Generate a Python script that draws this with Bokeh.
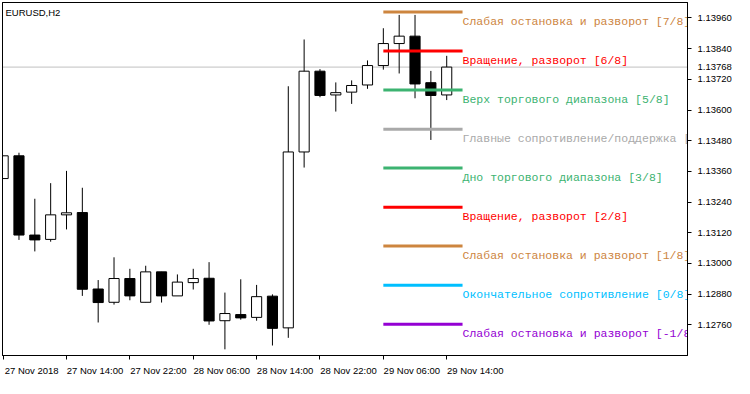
from bokeh.plotting import figure
from bokeh.models import Range1d, FixedTicker, Label, Span, ColumnDataSource, PrintfTickFormatter, LinearAxis
from bokeh.embed import file_html
from bokeh.resources import INLINE
from bokeh.core.properties import value

# ---- data (EURUSD, H2) ----
bars = list(range(29))
opens = [1.13332, 1.13421, 1.13111, 1.13094, 1.13190, 1.13199, 1.12900, 1.12848, 1.12941, 1.12848,
         1.12967, 1.12873, 1.12925, 1.12942, 1.12776, 1.12800, 1.12789, 1.12872, 1.12748, 1.13436,
         1.13752, 1.13659, 1.13670, 1.13698, 1.13774, 1.13860, 1.13889, 1.13707, 1.13659]
highs = [1.13421, 1.13433, 1.13253, 1.13314, 1.13362, 1.13296, 1.12935, 1.13024, 1.12979, 1.12991,
         1.12967, 1.12957, 1.12979, 1.13005, 1.12886, 1.12938, 1.12916, 1.12879, 1.13693, 1.13876,
         1.13760, 1.13708, 1.13716, 1.13794, 1.13920, 1.13972, 1.13972, 1.13753, 1.13812]
lows = [1.13332, 1.13092, 1.13047, 1.13085, 1.13133, 1.12873, 1.12769, 1.12839, 1.12856, 1.12848,
        1.12847, 1.12873, 1.12898, 1.12760, 1.12664, 1.12780, 1.12776, 1.12679, 1.12709, 1.13375,
        1.13650, 1.13594, 1.13624, 1.13683, 1.13758, 1.13743, 1.13646, 1.13483, 1.13639]
closes = [1.13421, 1.13111, 1.13092, 1.13190, 1.13198, 1.12899, 1.12847, 1.12941, 1.12873, 1.12967,
          1.12873, 1.12927, 1.12941, 1.12775, 1.12804, 1.12787, 1.12870, 1.12746, 1.13436, 1.13752,
          1.13657, 1.13668, 1.13696, 1.13774, 1.13860, 1.13889, 1.13702, 1.13657, 1.13768]

tick_bars = [0, 4, 8, 12, 16, 20, 24, 28]
tick_labels = ["27 Nov 2018", "27 Nov 14:00", "27 Nov 22:00", "28 Nov 06:00",
               "28 Nov 14:00", "28 Nov 22:00", "29 Nov 06:00", "29 Nov 14:00"]
price_ticks = [1.12760, 1.12880, 1.13000, 1.13120, 1.13240, 1.13360, 1.13480, 1.13600, 1.13720, 1.13840, 1.13960]

murrey_levels = [1.13983, 1.13831, 1.13678, 1.13525, 1.13373, 1.13220, 1.13068, 1.12915, 1.12762]
murrey_texts = ["Слабая остановка и разворот [7/8]",
                "Вращение, разворот [6/8]",
                "Верх торгового диапазона [5/8]",
                "Главные сопротивление/поддержка [4/8]",
                "Дно торгового диапазона [3/8]",
                "Вращение, разворот [2/8]",
                "Слабая остановка и разворот [1/8]",
                "Окончательное сопротивление [0/8]",
                "Слабая остановка и разворот [-1/8]"]
murrey_colors = ["#CD853F", "#FF0000", "#3CB371", "#A9A9A9", "#3CB371",
                 "#FF0000", "#CD853F", "#00BFFF", "#9400D3"]
murrey_start_bar = 24
murrey_end_bar = 29

current_price = 1.13768
symbol_label = "EURUSD,H2"

# ---- figure ----
x0, x1 = -0.04, 43.2
y0, y1 = 1.126399, 1.140206
p = figure(width=734, height=378, output_backend="svg", toolbar_location=None,
           x_range=Range1d(x0, x1), y_range=Range1d(y0, y1),
           y_axis_location="right", min_border_left=2, min_border_top=2,
           min_border_right=0, min_border_bottom=0)
p.background_fill_color = "white"
p.border_fill_color = "white"
p.outline_line_color = "black"
p.outline_line_width = 1
p.grid.visible = False

# time axis: tick marks at the bar times (minor ticks), labels left-aligned
# after each tick (major positions shifted by half a label width)
label_shift = 1.8
label_pos = [t + label_shift for t in tick_bars]
ax = p.xaxis[0]
ax.ticker = FixedTicker(ticks=label_pos, minor_ticks=tick_bars)
ax.major_label_overrides = {pos: lab for pos, lab in zip(label_pos, tick_labels)}
ax.major_tick_line_color = None
ax.major_tick_out = 0
ax.major_tick_in = 0
ax.minor_tick_out = 4
ax.minor_tick_in = 0
ax.minor_tick_line_color = "black"
ax.axis_line_color = "black"
ax.major_label_standoff = 5
ax.major_label_text_font = "Liberation Sans"
ax.major_label_text_font_size = "9.5px"
ax.major_label_text_color = "black"

# price axis: tick marks at the scale levels, plus the current price label
ay = p.yaxis[0]
ay.ticker = FixedTicker(ticks=sorted(price_ticks + [current_price]), minor_ticks=price_ticks)
ay.formatter = PrintfTickFormatter(format="%.5f")
ay.major_tick_line_color = None
ay.major_tick_out = 0
ay.major_tick_in = 0
ay.minor_tick_out = 4
ay.minor_tick_in = 0
ay.minor_tick_line_color = "black"
ay.axis_line_color = "black"
ay.major_label_standoff = 6
ay.major_label_text_font = "Liberation Sans"
ay.major_label_text_font_size = "9.5px"
ay.major_label_text_color = "black"

# plain window border on the left and top (axes without ticks)
for side in ("left", "above"):
    p.add_layout(LinearAxis(ticker=FixedTicker(ticks=[]), axis_line_color="black",
                            axis_line_width=1, major_tick_line_color=None,
                            minor_tick_line_color=None, major_tick_out=0, major_tick_in=0,
                            minor_tick_out=0, minor_tick_in=0, major_label_standoff=0), side)

# current price line
p.add_layout(Span(location=current_price, dimension="width", line_color="#C0C0C0",
                  line_width=1, level="underlay"))

# candles
tops = [max(o, c) for o, c in zip(opens, closes)]
bots = [min(o, c) for o, c in zip(opens, closes)]
fills = ["white" if c >= o else "black" for o, c in zip(opens, closes)]
src = ColumnDataSource(dict(x=bars, h=highs, l=lows, t=tops, b=bots, f=fills))
p.segment(x0="x", y0="h", x1="x", y1="l", source=src, line_color="black", line_width=1)
p.vbar(x="x", width=0.64, top="t", bottom="b", fill_color="f", line_color="black",
       line_width=1, source=src)

# Murrey math lines
msrc = ColumnDataSource(dict(x0=[murrey_start_bar] * len(murrey_levels),
                             x1=[murrey_end_bar] * len(murrey_levels),
                             y=murrey_levels, txt=murrey_texts, c=murrey_colors))
p.segment(x0="x0", y0="y", x1="x1", y1="y", line_color="c", line_width=3, source=msrc)
p.text(x="x1", y="y", text="txt", text_color="c", text_font=value("Liberation Mono"),
       text_font_size="11.5px", text_baseline="top", text_align="left",
       y_offset=3, source=msrc)

# symbol label
p.add_layout(Label(x=x0, y=y1, x_offset=3, y_offset=-4, text=symbol_label,
                   text_font="Liberation Sans", text_font_size="9.5px",
                   text_baseline="top", text_color="black"))

open("out.html", "w").write(file_html(p, INLINE))
